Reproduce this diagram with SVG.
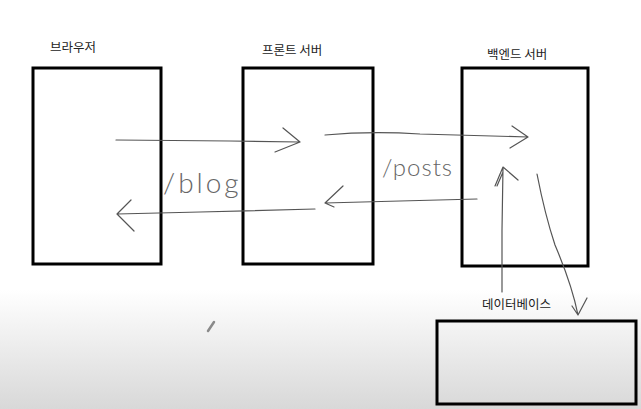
<svg xmlns="http://www.w3.org/2000/svg" width="641" height="409" viewBox="0 0 641 409">
<defs>
<linearGradient id="bg" x1="0" y1="0" x2="0" y2="1">
<stop offset="0" stop-color="#ffffff"/>
<stop offset="1" stop-color="#d8d8d8"/>
</linearGradient>
</defs>
<style>
.box{fill:none;stroke:#000;stroke-width:3}
.lbl{font-family:"Noto Sans CJK KR","Noto Sans",sans-serif;font-size:12.5px;fill:#222}
.ink{fill:none;stroke:#555;stroke-width:1.2;stroke-linecap:round;stroke-linejoin:round}
.hand{font-family:"Lato","Liberation Sans",sans-serif;font-weight:300;fill:#666}
</style>
<rect x="0" y="0" width="641" height="409" fill="#fff"/>
<rect x="0" y="290" width="641" height="119" fill="url(#bg)"/>
<g id="browser">
<rect class="box" x="33" y="68" width="128" height="196"/>
<text class="lbl" x="50" y="52">브라우저</text>
</g>
<g id="front-server">
<rect class="box" x="243" y="68" width="130" height="196"/>
<text class="lbl" x="262" y="55">프론트 서버</text>
</g>
<g id="backend-server">
<rect class="box" x="462" y="68" width="126" height="198"/>
<text class="lbl" x="487" y="59">백엔드 서버</text>
</g>
<g id="database">
<rect class="box" x="437" y="321" width="199" height="83"/>
<text class="lbl" x="482" y="309">데이터베이스</text>
</g>
<g id="connectors">
<path class="ink" d="M116,140 L230,141 L300,142 M283,128 L300,142 L275,152"/>
<path class="ink" d="M325,135 Q370,131 420,134 L528,137 M512,126 L528,137 L510,148"/>
<path class="ink" d="M477,199 L400,201 L325,203 M343,186 L325,203 L334,207"/>
<path class="ink" d="M315,209 L200,212 L117,214 M131,200 L117,214 L134,231"/>
<path class="ink" d="M502,292 L502,230 L503,167 M495,186 L503,167 L518,180 M497,186 L503,172"/>
<path class="ink" d="M537,174 Q545,215 555,245 Q572,285 578,315 M572,306 L578,315 L587,298"/>
<text class="hand" x="163" y="193" font-size="28" letter-spacing="3">/blog</text>
<text class="hand" x="382" y="176" font-size="24" letter-spacing="1">/posts</text>
</g>
<path d="M208,331 L214,322" stroke="#8a8a8a" stroke-width="2.5" stroke-linecap="round"/>
</svg>
